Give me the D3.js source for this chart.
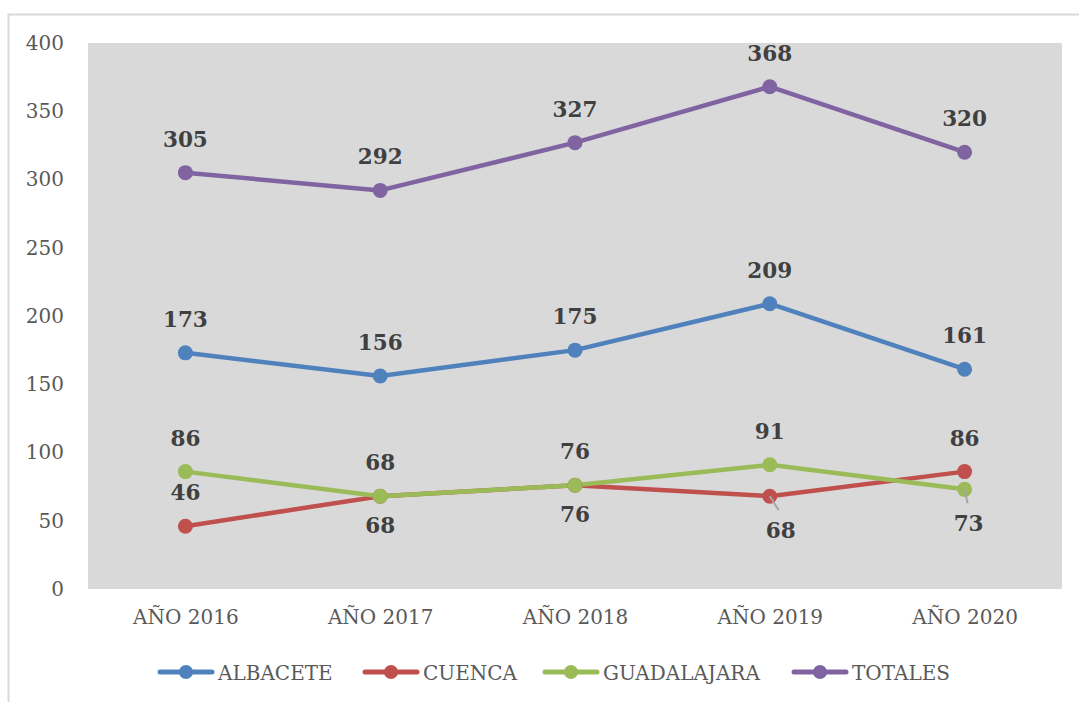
<!DOCTYPE html>
<html><head><meta charset="utf-8">
<script src="https://cdn.jsdelivr.net/npm/d3@7"></script>
<style>body{margin:0;background:#fff}svg{display:block}</style>
</head><body>
<svg id="c" width="1079" height="702"></svg>
<script>
const categories = ["AÑO 2016","AÑO 2017","AÑO 2018","AÑO 2019","AÑO 2020"];
const seriesNames = ["ALBACETE","CUENCA","GUADALAJARA","TOTALES"];
const albacete = [173,156,175,209,161];
const cuenca = [46,68,76,68,86];
const guadalajara = [86,68,76,91,73];
const totales = [305,292,327,368,320];
const yTicks = [0,50,100,150,200,250,300,350,400];

const colors = ["#4F81BD","#C0504D","#9BBB59","#8064A2"];
// label placement: "a" above, "b" below, "br" below with leader
const placement = [
  ["a","a","a","a","a"],
  ["a","b","b","br","a"],
  ["a","a","a","a","br"],
  ["a","a","a","a","a"]
];
const values = [albacete,cuenca,guadalajara,totales];

const svg = d3.select("#c");
const L=88,R=1062,T=43,B=589;
const x = d3.scalePoint().domain(categories).range([L,R]).padding(0.5);
const y = d3.scaleLinear().domain([0,400]).range([B,T]);

// outer border
svg.append("rect").attr("x",8.5).attr("y",14.5).attr("width",1080).attr("height",700)
  .attr("fill","none").attr("stroke","#D9D9D9").attr("stroke-width",2);

svg.append("rect").attr("x",L).attr("y",T).attr("width",R-L).attr("height",B-T).attr("fill","#D9D9D9");

const font = "'DejaVu Serif', serif";
// y axis
const ya = svg.append("g").attr("transform",`translate(${L},0)`)
  .call(d3.axisLeft(y).tickValues(yTicks).tickSize(0).tickPadding(24));
ya.select(".domain").remove();
ya.selectAll("text").attr("font-family",font).attr("font-size",20).attr("fill","#595959");

const xa = svg.append("g").attr("transform",`translate(0,${B})`)
  .call(d3.axisBottom(x).tickSize(0).tickPadding(21));
xa.select(".domain").remove();
xa.selectAll("text").attr("font-family",font).attr("font-size",20).attr("fill","#595959");

const line = d3.line().x((d,i)=>x(categories[i])).y(d=>y(d));

values.forEach((vals,s)=>{
  svg.append("path").datum(vals).attr("d",line).attr("fill","none")
    .attr("stroke",colors[s]).attr("stroke-width",4.5).attr("stroke-linejoin","round");
});
values.forEach((vals,s)=>{
  svg.append("g").selectAll("circle").data(vals).join("circle")
    .attr("cx",(d,i)=>x(categories[i])).attr("cy",d=>y(d)).attr("r",7.5).attr("fill",colors[s]);
});

// leader lines
values.forEach((vals,s)=>{
  vals.forEach((v,i)=>{
    if(placement[s][i]==="br"){
      const px=x(categories[i]), py=y(v);
      const dx = i===3?9:3;
      svg.append("line").attr("x1",px).attr("y1",py).attr("x2",px+dx).attr("y2",py+14)
        .attr("stroke","#A6A6A6").attr("stroke-width",2);
    }
  });
});

// labels
values.forEach((vals,s)=>{
  vals.forEach((v,i)=>{
    const p = placement[s][i];
    let px=x(categories[i]), py=y(v), ty;
    if(p==="a") ty = py-26;
    else if(p==="b") ty = py+37;
    else { px += (i===3?11:4); ty = py+42; }
    svg.append("text").attr("x",px).attr("y",ty).attr("text-anchor","middle")
      .attr("font-family",font).attr("font-weight","bold").attr("font-size",21.5)
      .attr("fill","#404040").text(v);
  });
});

// legend
const legX = [158,363,543,792];
const ly = 672;
seriesNames.forEach((n,s)=>{
  const g = svg.append("g");
  g.append("line").attr("x1",legX[s]+2).attr("x2",legX[s]+54).attr("y1",ly).attr("y2",ly)
    .attr("stroke",colors[s]).attr("stroke-width",5).attr("stroke-linecap","round");
  g.append("circle").attr("cx",legX[s]+28).attr("cy",ly).attr("r",7).attr("fill",colors[s]);
  g.append("text").attr("x",legX[s]+60).attr("y",ly+7.5).attr("font-family",font)
    .attr("font-size",20).attr("fill","#595959").text(n);
});
</script>
</body></html>
